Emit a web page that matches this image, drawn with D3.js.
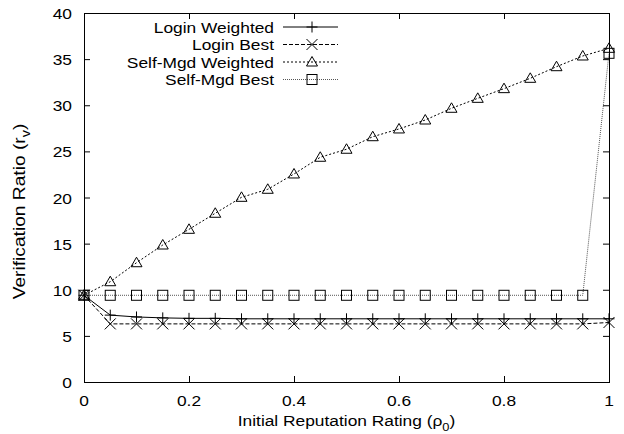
<!DOCTYPE html>
<html><head><meta charset="utf-8">
<script src="https://cdn.jsdelivr.net/npm/d3@7"></script>
<style>body{margin:0;background:#fff}svg{display:block}text{font-family:"Liberation Sans",Arial,sans-serif;fill:#000}</style>
</head><body><svg id="c" width="624" height="434"></svg>
<script>
const xValues = [0,0.05,0.1,0.15,0.2,0.25,0.3,0.35,0.4,0.45,0.5,0.55,0.6,0.65,0.7,0.75,0.8,0.85,0.9,0.95,1.0];
const loginWeighted = [9.4,7.25,7.05,6.95,6.9,6.9,6.85,6.85,6.85,6.85,6.85,6.85,6.85,6.85,6.85,6.85,6.85,6.85,6.85,6.85,6.85];
const loginBest = [9.4,6.3,6.3,6.3,6.3,6.3,6.3,6.3,6.3,6.3,6.3,6.3,6.3,6.3,6.3,6.3,6.3,6.3,6.3,6.3,6.45];
const selfMgdWeighted = [9.4,10.87,12.93,14.85,16.55,18.29,20.02,20.89,22.55,24.36,25.23,26.59,27.43,28.4,29.67,30.75,31.8,32.92,34.18,35.34,36.17];
const selfMgdBest = [9.4,9.4,9.4,9.4,9.4,9.4,9.4,9.4,9.4,9.4,9.4,9.4,9.4,9.4,9.4,9.4,9.4,9.4,9.4,9.4,35.63];
const seriesNames = ["Login Weighted","Login Best","Self-Mgd Weighted","Self-Mgd Best"];
const xTicks = [0,0.2,0.4,0.6,0.8,1];
const yTicks = [0,5,10,15,20,25,30,35,40];

const svg = d3.select("#c");
const L=84, R=609, T=13, B=382;
const x = d3.scaleLinear().domain([0,1]).range([L,R]);
const y = d3.scaleLinear().domain([0,40]).range([B,T]);
const FS = 15.5, SX = 1.12;

function htext(parent, tx, ty, anchor, str, fs){
  return parent.append("g").attr("transform",`translate(${tx},${ty}) scale(${SX},1)`)
    .append("text").attr("text-anchor",anchor).attr("font-size",fs||FS).text(str);
}

// ticks (inward, mirrored)
const g = svg.append("g");
const tl = 6;
xTicks.forEach(v=>{
  g.append("line").attr("x1",x(v)+0.5).attr("x2",x(v)+0.5).attr("y1",B).attr("y2",B-tl).attr("stroke","#000");
  g.append("line").attr("x1",x(v)+0.5).attr("x2",x(v)+0.5).attr("y1",T).attr("y2",T+tl).attr("stroke","#000");
  htext(g, x(v), B+24, "middle", v===0||v===1?String(v):d3.format(".1f")(v));
});
yTicks.forEach(v=>{
  g.append("line").attr("x1",L).attr("x2",L+tl).attr("y1",y(v)+0.5).attr("y2",y(v)+0.5).attr("stroke","#000");
  g.append("line").attr("x1",R).attr("x2",R-tl).attr("y1",y(v)+0.5).attr("y2",y(v)+0.5).attr("stroke","#000");
  htext(g, L-12, y(v)+6, "end", v);
});

// axis titles
const xtg = svg.append("g").attr("transform",`translate(${(L+R)/2},426) scale(${SX},1)`);
const xt = xtg.append("text").attr("text-anchor","middle").attr("font-size",FS);
xt.append("tspan").text("Initial Reputation Rating (ρ");
xt.append("tspan").attr("font-size",11.5).attr("dy",5).text("0");
xt.append("tspan").attr("dy",-5).text(")");
const yt = svg.append("text").attr("transform",`translate(25,${(T+B)/2 + 14}) rotate(-90) scale(1.2,1)`).attr("text-anchor","middle").attr("font-size",16);
yt.append("tspan").text("Verification Ratio (r");
yt.append("tspan").attr("font-size",12).attr("dy",5).text("v");
yt.append("tspan").attr("dy",-5).text(")");

const dashes = [null,"4,2","2,2","1,1"];
const strokes = ["#000","#000","#000","#555"];
const datasets = [loginWeighted, loginBest, selfMgdWeighted, selfMgdBest];
const line = d3.line().x(d=>x(d[0])).y(d=>y(d[1]));

function marker(sel, type, cx, cy){
  const s=5.5;
  if(type===0){
    sel.append("path").attr("d",`M${cx-s},${cy}H${cx+s}M${cx},${cy-s}V${cy+s}`).attr("stroke","#000").attr("fill","none");
  } else if(type===1){
    sel.append("path").attr("d",`M${cx-s},${cy-s}L${cx+s},${cy+s}M${cx-s},${cy+s}L${cx+s},${cy-s}`).attr("stroke","#000").attr("fill","none");
  } else if(type===2){
    sel.append("path").attr("d",`M${cx},${cy-5.5}L${cx+5.5},${cy+4}L${cx-5.5},${cy+4}Z`).attr("stroke","#000").attr("fill","none");
  } else {
    sel.append("rect").attr("x",cx-5).attr("y",cy-5).attr("width",10).attr("height",10).attr("stroke","#000").attr("fill","none");
  }
}

const plot = svg.append("g");
datasets.forEach((ds,i)=>{
  const pts = xValues.map((xv,j)=>[xv,ds[j]]);
  plot.append("path").attr("d",line(pts)).attr("fill","none").attr("stroke",strokes[i]).attr("stroke-width",1)
    .attr("stroke-dasharray",dashes[i]);
  pts.forEach(p=>marker(plot,i,x(p[0]),y(p[1])));
});

// legend
const legY = [27,44.5,62,79.5];
const lg = svg.append("g");
seriesNames.forEach((n,i)=>{
  htext(lg, 274, legY[i]+5.5, "end", n);
  lg.append("line").attr("x1",283).attr("x2",338).attr("y1",legY[i]).attr("y2",legY[i]).attr("stroke",strokes[i]).attr("stroke-dasharray",dashes[i]);
  marker(lg,i,312,legY[i]);
});

// frame
svg.append("rect").attr("x",L+0.5).attr("y",T+0.5).attr("width",R-L).attr("height",B-T).attr("fill","none").attr("stroke","#000");
</script></body></html>
